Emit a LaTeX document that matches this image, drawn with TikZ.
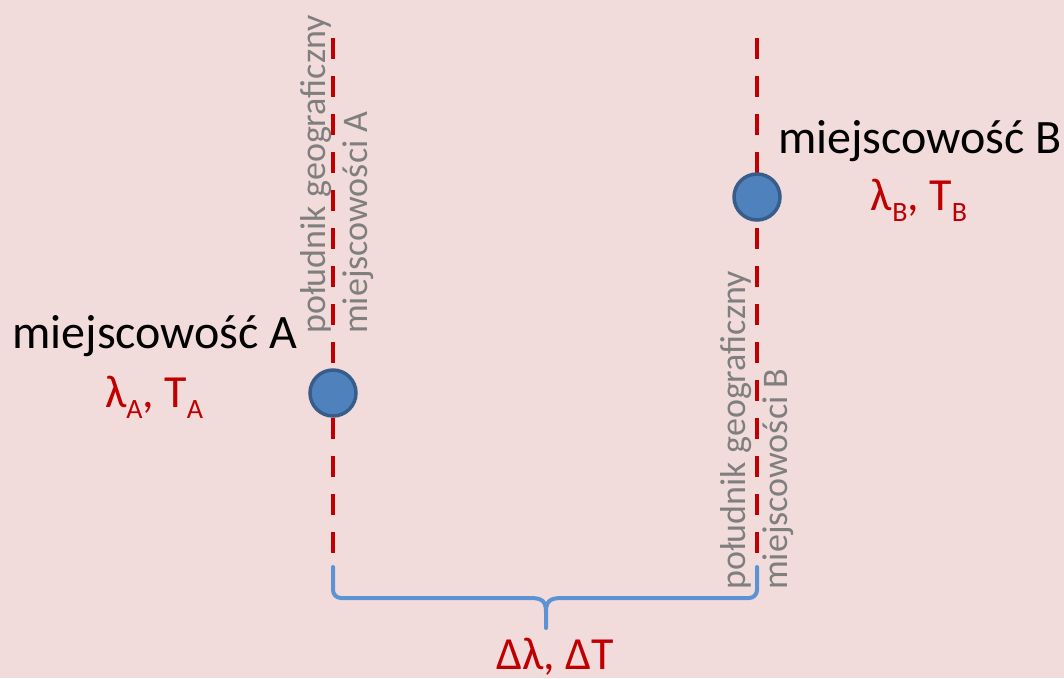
\documentclass[tikz,border=0pt]{standalone}
\usepackage{fontspec}
\setmainfont{Carlito}
\begin{document}
\begin{tikzpicture}[x=1pt,y=-1pt,
  meridian/.style={draw=redline, line width=4.5pt, dash pattern=on 21pt off 17pt},
  place/.style={circle, draw=dotedge, fill=dotfill, line width=3.5pt, minimum size=46pt, inner sep=0pt},
  bracepath/.style={draw=bracecol, line width=4pt, line cap=round, line join=round},
  town/.style={font=\fontsize{48}{56}\selectfont, text=black, inner sep=0pt},
  coords/.style={font=\fontsize{46}{54}\selectfont, text=redtext, inner sep=0pt},
  meridlabel/.style={font=\fontsize{36}{42}\selectfont, text=graytext, align=left, rotate=90, inner sep=0pt},
]
\definecolor{bg}{HTML}{F2DCDB}
\definecolor{redline}{HTML}{C00000}
\definecolor{redtext}{HTML}{C00000}
\definecolor{dotfill}{HTML}{4F81BD}
\definecolor{dotedge}{HTML}{385D8A}
\definecolor{bracecol}{HTML}{5B93D5}
\definecolor{graytext}{HTML}{7F7F7F}
\newcommand{\sub}[1]{\raisebox{-11pt}{\fontsize{28}{32}\selectfont #1}}

\fill[bg] (0,0) rectangle (1064,678);
\useasboundingbox (0,0) rectangle (1064,678);

% meridians
\coordinate (topA) at (333,38);
\coordinate (botA) at (333,567);
\coordinate (topB) at (757,38);
\coordinate (botB) at (757,567);
\draw[meridian] (topA) -- (botA);
\draw[meridian] (topB) -- (botB);

% places
\node[place] (ptA) at (333,393) {};
\node[place] (ptB) at (757,197) {};

% brace under the meridians
\coordinate (tip) at (546,628);
\draw[bracepath, rounded corners=8pt] (botA) -- (333,598) -- (530,598);
\draw[bracepath] (530,598) .. controls (542,598) and (546,601) .. (546,612) -- (tip);
\draw[bracepath, rounded corners=8pt] (botB) -- (757,598) -- (562,598);
\draw[bracepath] (562,598) .. controls (550,598) and (546,601) .. (546,612);

% labels
\node[town, anchor=base] (nameA) at (155,348) {miejscowość A};
\node[coords, anchor=base] (valA) at (154,407) {λ\sub{A}, T\sub{A}};
\node[town, anchor=base] (nameB) at (920,153) {miejscowość B};
\node[coords, anchor=base] (valB) at (919,210) {λ\sub{B}, T\sub{B}};
\node[coords, anchor=base, text depth=4pt] (delta) at (555,669) {Δλ, ΔT};

\node[meridlabel, anchor=north west] (mlA) at (300,334) {południk geograficzny\\ miejscowości A};
\node[meridlabel, anchor=north west] (mlB) at (720,590) {południk geograficzny\\ miejscowości B};
\end{tikzpicture}
\end{document}
